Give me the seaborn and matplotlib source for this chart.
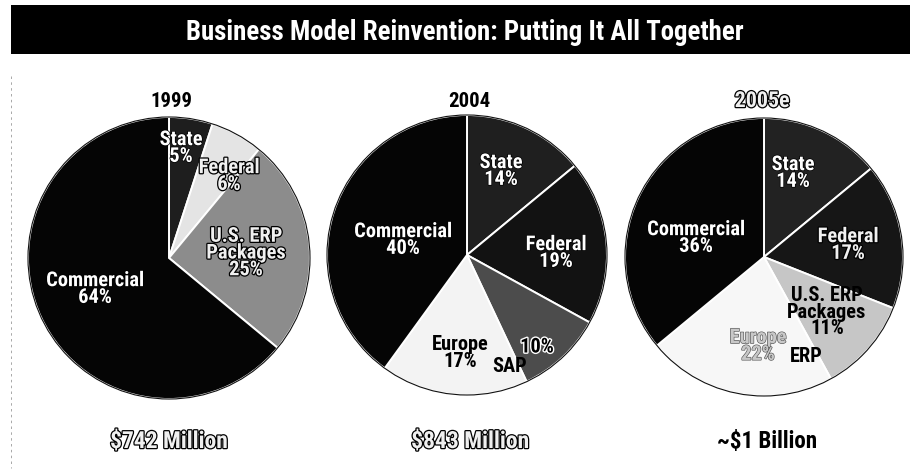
import matplotlib
matplotlib.use("Agg")
import matplotlib.pyplot as plt
import matplotlib.patheffects as pe
from matplotlib.patches import Rectangle, Circle
from matplotlib import font_manager
import seaborn as sns

# ---- data -------------------------------------------------------------
TITLE = "Business Model Reinvention: Putting It All Together"

years = ["1999", "2004", "2005e"]
totals = ["$742 Million", "$843 Million", "~$1 Billion"]

names_1999 = ["State", "Federal", "U.S. ERP\nPackages", "Commercial"]
shares_1999 = [5, 6, 25, 64]

names_2004 = ["State", "Federal", "", "Europe", "Commercial"]
shares_2004 = [14, 19, 10, 17, 40]

names_2005 = ["State", "Federal", "U.S. ERP\nPackages", "Europe", "Commercial"]
shares_2005 = [14, 17, 11, 22, 36]

extra_2004 = "SAP"
extra_2005 = "ERP"

# ---- style ------------------------------------------------------------
sns.set_theme(style="white")

# prefer a narrow bold face when one is installed
installed = {f.name for f in font_manager.fontManager.ttflist}
narrow = [n for n in ("Roboto Condensed", "Liberation Sans Narrow",
                      "Open Sans Condensed", "DejaVu Sans Condensed")
          if n in installed]
plt.rcParams["font.family"] = narrow + ["DejaVu Sans"]
plt.rcParams["font.weight"] = "bold"
plt.rcParams["font.stretch"] = "condensed"

W, H = 910, 470
fig = plt.figure(figsize=(W / 100, H / 100), dpi=100)
ax = fig.add_axes([0, 0, 1, 1])


def Y(y):
    """Convert a top-down pixel row into the axes' bottom-up y."""
    return H - y


STYLES = {
    "white": dict(color="white", path_effects=[pe.withStroke(linewidth=1.0, foreground="black")]),
    "hollow": dict(color="#f0f0f0", path_effects=[pe.withStroke(linewidth=1.8, foreground="black")]),
    "black": dict(color="black"),
    "halo": dict(color="black", path_effects=[pe.withStroke(linewidth=2.0, foreground="white")]),
    "faint": dict(color="#c8c8c8", path_effects=[pe.withStroke(linewidth=0.9, foreground="#555555")]),
}

pies = [
    dict(names=names_1999, shares=shares_1999, center=(169, 258), radius=141,
         colors=["#1e1e1e", "#e4e4e4", "#8c8c8c", "#050505"],
         label_xy=[(181, 148), (229, 176), (246, 253), (95, 289)],
         label_style=["white", "hollow", "hollow", "white"]),
    dict(names=names_2004, shares=shares_2004, center=(467, 255), radius=140,
         colors=["#1f1f1f", "#121212", "#4c4c4c", "#f3f3f3", "#050505"],
         label_xy=[(501, 171), (556, 253), (537, 347), (460, 353), (403, 240)],
         label_style=["white", "white", "halo", "black", "white"]),
    dict(names=names_2005, shares=shares_2005, center=(764, 257), radius=139,
         colors=["#222222", "#161616", "#c6c6c6", "#f7f7f7", "#050505"],
         label_xy=[(793, 173), (848, 245), (827, 312), (758, 346), (696, 238)],
         label_style=["white", "hollow", "black", "faint", "white"]),
]

# ---- pies -------------------------------------------------------------
for p in pies:
    cx, cy = p["center"]
    ax.pie(p["shares"], colors=p["colors"], startangle=90, counterclock=False,
           center=(cx, Y(cy)), radius=p["radius"], frame=True,
           wedgeprops=dict(edgecolor="white", linewidth=1.4))
    ax.add_patch(Circle((cx, Y(cy)), p["radius"], fill=False,
                        edgecolor="#111111", linewidth=0.8, zorder=3))

ax.set_xlim(0, W)
ax.set_ylim(0, H)
ax.set_axis_off()

renderer = fig.canvas.get_renderer()


def fit_size(text, width_px):
    """Scale a text's font size so that it spans width_px pixels."""
    w = text.get_window_extent(renderer).width
    text.set_fontsize(text.get_fontsize() * width_px / w)


# ---- banner -----------------------------------------------------------
ax.add_patch(Rectangle((11, Y(54)), W - 11, 49, facecolor="black",
                       edgecolor="none", zorder=4))
title = ax.text(465, Y(40), TITLE, ha="center", va="baseline", color="white",
                fontsize=18, fontweight="bold", zorder=5)
fit_size(title, 557)

# faint page rule on the left
ax.plot([11, 11], [Y(76), Y(468)], color="#9a9a9a", linewidth=0.6,
        linestyle=(0, (3, 4)), zorder=1)

# ---- year headings and totals ----------------------------------------
year_x = [171, 469, 762]
year_w = [42, 42, 55]
year_style = ["black", "black", "hollow"]
for x, yr, w, st in zip(year_x, years, year_w, year_style):
    t = ax.text(x, Y(107), yr, ha="center", va="baseline", fontsize=16,
                fontweight="bold", zorder=5, **STYLES[st])
    fit_size(t, w)

total_x = [169, 470, 767]
total_w = [118, 118, 100]
total_style = ["hollow", "hollow", "black"]
for x, s, w, st in zip(total_x, totals, total_w, total_style):
    t = ax.text(x, Y(448), s, ha="center", va="baseline", fontsize=15,
                fontweight="bold", zorder=5, **STYLES[st])
    fit_size(t, w)

# ---- wedge labels -----------------------------------------------------
probe = ax.text(0, 0, "Commercial", fontsize=12, fontweight="bold")
fit_size(probe, 98)
label_size = probe.get_fontsize()
probe.remove()

for p in pies:
    for name, share, (x, y), st in zip(p["names"], p["shares"],
                                        p["label_xy"], p["label_style"]):
        label = f"{name}\n{share}%" if name else f"{share}%"
        ax.text(x, Y(y), label, ha="center", va="center", fontsize=label_size,
                fontweight="bold", linespacing=0.85, zorder=6, **STYLES[st])

ax.text(510, Y(366), extra_2004, ha="center", va="center", fontsize=label_size,
        fontweight="bold", zorder=6, **STYLES["black"])
ax.text(806, Y(356), extra_2005, ha="center", va="center", fontsize=label_size,
        fontweight="bold", zorder=6, **STYLES["black"])

fig.savefig("out.png", dpi=100, facecolor="white")
